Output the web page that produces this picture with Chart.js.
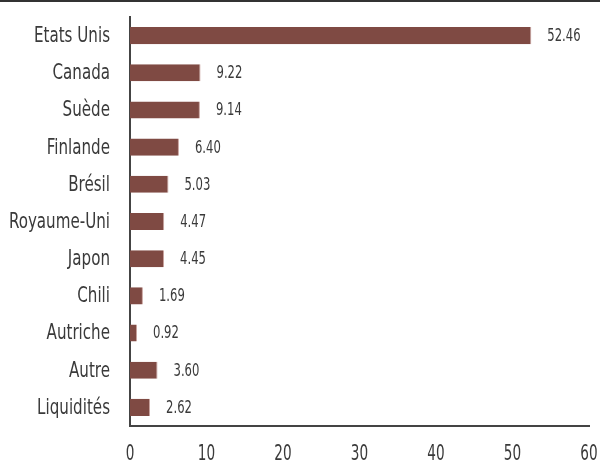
<!DOCTYPE html>
<html>
<head>
<meta charset="utf-8">
<script src="https://cdn.jsdelivr.net/npm/chart.js@4"></script>
<style>
  body { margin: 0; background: #fff; }
  .wrap { width: 600px; height: 459px; border-top: 2px solid #333; }
</style>
</head>
<body>
<div class="wrap"><canvas id="chart" width="600" height="459"></canvas></div>
<script>
// Allocation by country (%)
const countries = ['Etats Unis', 'Canada', 'Suède', 'Finlande', 'Brésil', 'Royaume-Uni', 'Japon', 'Chili', 'Autriche', 'Autre', 'Liquidités'];
const weights = [52.46, 9.22, 9.14, 6.40, 5.03, 4.47, 4.45, 1.69, 0.92, 3.60, 2.62];
const xTicks = [0, 10, 20, 30, 40, 50, 60];

const FONT = '"DejaVu Sans Condensed", "DejaVu Sans", sans-serif';

// the original uses a very narrow face, so squeeze the text horizontally
function narrowText(ctx, text, x, y, align, size, squeeze) {
  ctx.save();
  ctx.font = size + 'px ' + FONT;
  ctx.textAlign = align;
  ctx.textBaseline = 'middle';
  ctx.translate(x, y);
  ctx.scale(squeeze, 1);
  ctx.fillText(text, 0, 0);
  ctx.restore();
}

// Category names, axis numbers and bar values
const labels = {
  id: 'labels',
  afterDatasetsDraw(chart) {
    const ctx = chart.ctx;
    const meta = chart.getDatasetMeta(0);
    const xs = chart.scales.x;
    const area = chart.chartArea;
    ctx.fillStyle = '#3a3a3a';
    meta.data.forEach((bar, i) => {
      narrowText(ctx, countries[i], area.left - 20, bar.y + 1, 'right', 21, 0.8);
      narrowText(ctx, weights[i].toFixed(2), bar.x + 16, bar.y + 1, 'left', 17, 0.76);
    });
    xTicks.forEach(v => {
      narrowText(ctx, String(v), xs.getPixelForValue(v), area.bottom + 29, 'center', 21, 0.72);
    });
  }
};

new Chart(document.getElementById('chart'), {
  type: 'bar',
  data: {
    labels: countries,
    datasets: [{
      data: weights,
      backgroundColor: '#7f4a43',
      borderColor: '#c9a39e',
      borderWidth: { right: 1, top: 0, bottom: 0, left: 0 },
      barPercentage: 0.92,
      categoryPercentage: 0.5
    }]
  },
  options: {
    indexAxis: 'y',
    responsive: false,
    animation: false,
    layout: { padding: { top: 15, right: 11, left: 0, bottom: 0 } },
    plugins: { legend: { display: false }, tooltip: { enabled: false } },
    scales: {
      x: {
        min: 0,
        max: 60,
        afterBuildTicks(scale) { scale.ticks = xTicks.map(v => ({ value: v })); },
        grid: { display: false, drawTicks: false },
        border: { display: true, color: '#444', width: 2 },
        ticks: { display: false },
        afterFit(scale) { scale.height = 35; }
      },
      y: {
        grid: { display: false, drawTicks: false },
        border: { display: true, color: '#444', width: 2 },
        ticks: { display: false },
        afterFit(scale) { scale.width = 130; }
      }
    }
  },
  plugins: [labels]
});
</script>
</body>
</html>
